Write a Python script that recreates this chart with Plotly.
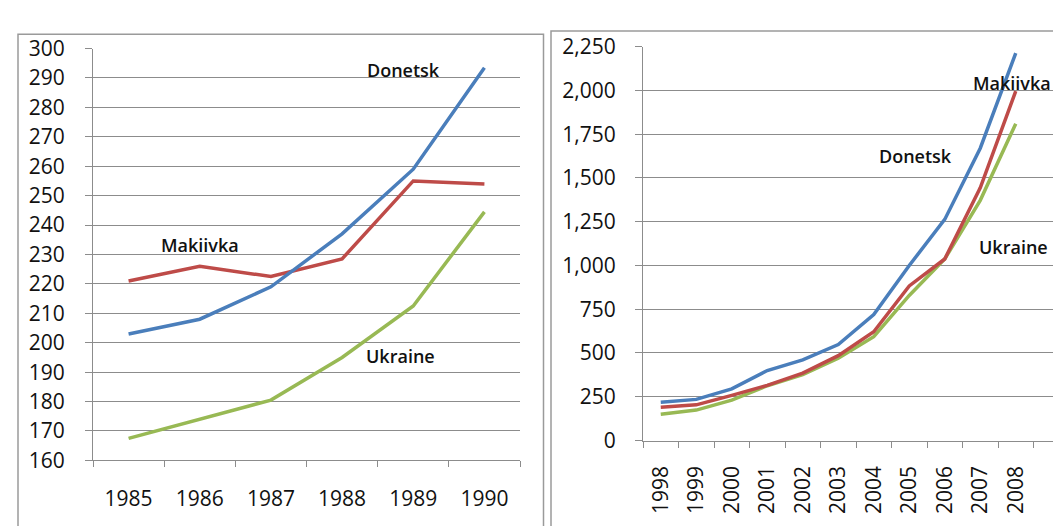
import plotly.graph_objects as go

# ---- data: left panel (1985-1990)
years_left = ["1985", "1986", "1987", "1988", "1989", "1990"]
donetsk_left = [203, 208, 219, 237, 259, 293.5]
makiivka_left = [221, 226, 222.5, 228.5, 255, 254]
ukraine_left = [167.5, 174, 180.5, 195, 212.5, 244.5]

# ---- data: right panel (1998-2008)
years_right = ["1998", "1999", "2000", "2001", "2002", "2003", "2004", "2005", "2006", "2007", "2008"]
donetsk_right = [219, 235, 295, 400, 461, 548, 720, 1000, 1263, 1670, 2213]
makiivka_right = [190, 204, 258, 315, 385, 485, 621, 883, 1037, 1444, 1996]
ukraine_right = [150, 174, 231, 313, 376, 470, 593, 829, 1037, 1372, 1810]

left_ticks = [160, 170, 180, 190, 200, 210, 220, 230, 240, 250, 260, 270, 280, 290, 300]
right_ticks = [0, 250, 500, 750, 1000, 1250, 1500, 1750, 2000, 2250]

BLUE = "#4A7EBB"
RED = "#BE4B48"
GREEN = "#98B954"
GRID = "#8c8c8c"
TXT = "#111111"
FONT = "Open Sans"

W, H = 1061, 526

def px(x):
    return x / W

def py(y):
    return 1 - y / H

fig = go.Figure()

for name, vals, col in [("Makiivka", makiivka_left, RED), ("Ukraine", ukraine_left, GREEN), ("Donetsk", donetsk_left, BLUE)]:
    fig.add_trace(go.Scatter(x=years_left, y=vals, mode="lines", name=name,
                             line=dict(color=col, width=3.5), xaxis="x", yaxis="y"))

for name, vals, col in [("Ukraine", ukraine_right, GREEN), ("Makiivka", makiivka_right, RED), ("Donetsk", donetsk_right, BLUE)]:
    fig.add_trace(go.Scatter(x=years_right, y=vals, mode="lines", name=name,
                             line=dict(color=col, width=3.5), xaxis="x2", yaxis="y2"))

tickfont = dict(family=FONT, size=21, color=TXT, weight=500)

fig.update_layout(
    width=W, height=H,
    margin=dict(l=0, r=0, t=0, b=0),
    paper_bgcolor="white", plot_bgcolor="white",
    showlegend=False,
    xaxis=dict(domain=[px(85), px(512)], type="category", range=[-0.5, 5.5],
               tickson="boundaries", ticks="outside", ticklen=6, tickcolor=GRID, tickwidth=1,
               showgrid=False, showline=True, linecolor=GRID, linewidth=1,
               tickfont=tickfont, ticklabelstandoff=19, anchor="y", zeroline=False),
    yaxis=dict(domain=[py(462), py(27)], range=[160, 300], tickvals=left_ticks,
               ticks="outside", ticklen=7, tickcolor=GRID,
               showgrid=True, gridcolor=GRID, gridwidth=1,
               showline=True, linecolor=GRID, linewidth=1,
               tickfont=tickfont, ticklabelstandoff=16, anchor="x", zeroline=False),
    xaxis2=dict(domain=[px(635), 1.0], type="category", range=[-0.5, 11.5],
                tickson="boundaries", ticks="outside", ticklen=6, tickcolor=GRID, tickwidth=1,
                showgrid=False, showline=True, linecolor=GRID, linewidth=1,
                tickangle=-90, tickfont=tickfont, ticklabelstandoff=16,
                anchor="y2", zeroline=False),
    yaxis2=dict(domain=[py(441), py(25)], range=[0, 2250], tickvals=right_ticks,
                tickformat=",d", ticks="outside", ticklen=7, tickcolor=GRID,
                showgrid=True, gridcolor=GRID, gridwidth=1,
                showline=True, linecolor=GRID, linewidth=1,
                tickfont=tickfont, ticklabelstandoff=15, anchor="x2", zeroline=False),
)

# panel borders
fig.add_shape(type="rect", xref="paper", yref="paper",
              x0=px(10), x1=px(535.5), y0=py(540), y1=py(12),
              line=dict(color="#9a9a9a", width=1.5), fillcolor="rgba(0,0,0,0)", layer="below")
fig.add_shape(type="rect", xref="paper", yref="paper",
              x0=px(543), x1=px(1075), y0=py(540), y1=py(8.5),
              line=dict(color="#9a9a9a", width=1.5), fillcolor="rgba(0,0,0,0)", layer="below")

labfont = dict(family=FONT, size=18, color="#111111", weight=600)
annots = [
    ("Donetsk", 395, 50, "center"),
    ("Makiivka", 192, 234, "center"),
    ("Ukraine", 392, 352, "center"),
    ("Makiivka", 963, 63, "left"),
    ("Donetsk", 907, 140, "center"),
    ("Ukraine", 1005, 237, "center"),
]
for text, x, y, anc in annots:
    fig.add_annotation(text=text, xref="paper", yref="paper", x=px(x), y=py(y),
                       xanchor=anc, yanchor="middle", showarrow=False, font=labfont)

fig.write_html("out.html")
